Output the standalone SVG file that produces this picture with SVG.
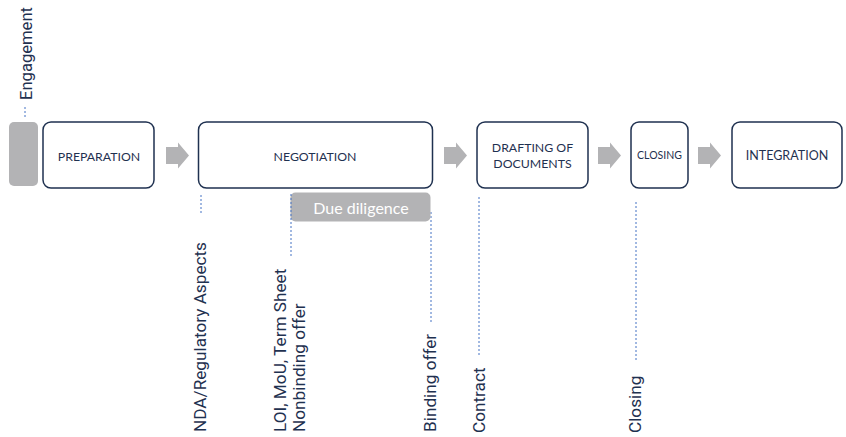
<svg xmlns="http://www.w3.org/2000/svg" width="846" height="437" viewBox="0 0 846 437">
<defs>
<style>
.box{fill:#fff;stroke:#1f3150;stroke-width:1.5}
.lbl{font-family:Lato,"Open Sans","Liberation Sans",sans-serif;font-size:12.3px;fill:#1f3150;text-anchor:middle;dominant-baseline:central}
.vt{font-family:Roboto,"Liberation Sans",sans-serif;font-size:17.2px;fill:#1f3150}
.dash{stroke:#4472c4;stroke-width:1;stroke-dasharray:2 2;fill:none}
.arr{fill:#b3b3b5}
</style>
</defs>
<rect width="846" height="437" fill="#fff"/>
<g id="connectors">
<path class="arr" d="M166,147 H178 V142.5 L189,155.5 L178,168.5 V164 H166 Z"/>
<path class="arr" d="M444,147 H456 V142.5 L467,155.5 L456,168.5 V164 H444 Z"/>
<path class="arr" d="M598,147 H610 V142.5 L621,155.5 L610,168.5 V164 H598 Z"/>
<path class="arr" d="M698,147 H710 V142.5 L721,155.5 L710,168.5 V164 H698 Z"/>
<line class="dash" x1="25" y1="107" x2="25" y2="118"/>
<line class="dash" x1="201" y1="195" x2="201" y2="213"/>
<line class="dash" x1="431" y1="212" x2="431" y2="324"/>
<line class="dash" x1="479" y1="197" x2="479" y2="357"/>
<line class="dash" x1="636" y1="202" x2="636" y2="362"/>
</g>
<g id="engagement">
<rect x="9" y="122" width="29" height="64" rx="5" fill="#b3b3b5"/>
<text class="vt" transform="translate(32,100) rotate(-90)" style="font-size:16.6px">Engagement</text>
</g>
<g id="preparation">
<rect class="box" x="43" y="122" width="111" height="66" rx="8"/>
<text class="lbl" x="99" y="156">PREPARATION</text>
</g>
<g id="negotiation">
<rect class="box" x="198.5" y="122" width="234" height="66" rx="8"/>
<text class="lbl" x="315" y="156">NEGOTIATION</text>
</g>
<g id="due-diligence">
<rect x="290.5" y="192.5" width="140" height="29" rx="5" fill="#b3b3b5"/>
<text x="361" y="207.5" font-family="Lato,'Open Sans',sans-serif" font-size="16" fill="#fff" text-anchor="middle" dominant-baseline="central">Due diligence</text>
<line class="dash" x1="291" y1="194" x2="291" y2="256"/>
</g>
<g id="drafting">
<rect class="box" x="477" y="122" width="111" height="66" rx="8"/>
<text class="lbl" x="532.5" y="147">DRAFTING OF</text>
<text class="lbl" x="532.5" y="163">DOCUMENTS</text>
</g>
<g id="closing">
<rect class="box" x="631" y="122" width="57" height="66" rx="8"/>
<text class="lbl" x="659.5" y="154.5" style="font-size:10.5px">CLOSING</text>
</g>
<g id="integration">
<rect class="box" x="732" y="122" width="110" height="66" rx="8"/>
<text class="lbl" x="787" y="155.5" style="font-size:12.5px">INTEGRATION</text>
</g>
<g id="milestones">
<text class="vt" transform="translate(206,432) rotate(-90)">NDA/Regulatory Aspects</text>
<text class="vt" transform="translate(286,432) rotate(-90)">LOI, MoU, Term Sheet</text>
<text class="vt" transform="translate(305,432) rotate(-90)">Nonbinding offer</text>
<text class="vt" transform="translate(435.5,432) rotate(-90)">Binding offer</text>
<text class="vt" transform="translate(485,433) rotate(-90)">Contract</text>
<text class="vt" transform="translate(641,433) rotate(-90)">Closing</text>
</g>
</svg>
